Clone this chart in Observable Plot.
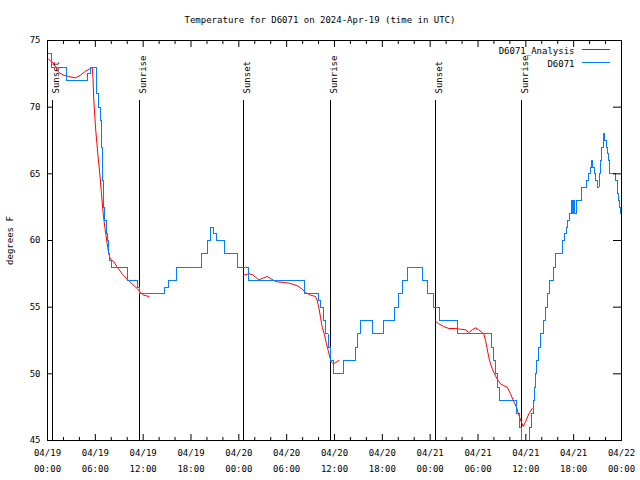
<!DOCTYPE html>
<html><head><meta charset="utf-8">
<script src="https://cdn.jsdelivr.net/npm/d3@7"></script>
<script src="https://cdn.jsdelivr.net/npm/@observablehq/plot@0.6"></script>
<style>body{margin:0;background:#fff;} svg{display:block}</style>
</head><body>
<script>
const chartTitle = "Temperature for D6071 on 2024-Apr-19 (time in UTC)";
const yLabel = "degrees F";
const xTickHours = [0, 6, 12, 18, 24, 30, 36, 42, 48, 54, 60, 66, 72];
const xTickDates = ["04/19","04/19","04/19","04/19","04/20","04/20","04/20","04/20","04/21","04/21","04/21","04/21","04/22"];
const xTickTimes = ["00:00","06:00","12:00","18:00","00:00","06:00","12:00","18:00","00:00","06:00","12:00","18:00","00:00"];
const xMinorTickHours = [2,4,8,10,14,16,20,22,26,28,32,34,38,40,44,46,50,52,56,58,62,64,68,70];
const yTicks = [45, 50, 55, 60, 65, 70, 75];
const seriesNames = ["D6071_Analysis", "D6071"];
const seriesColors = ["#ff0000", "#0080ff"];
const sunEventHours = [0.58, 11.58, 24.63, 35.50, 48.67, 59.50];
const sunEventLabels = ["Sunset", "Sunrise", "Sunset", "Sunrise", "Sunset", "Sunrise"];

// D6071 observations (hours since 04/19 00:00 UTC, deg F), value holds until next point
const stationHours = [0.00,0.50,2.40,4.97,5.35,6.15,6.43,6.65,6.77,6.90,7.06,7.19,7.36,7.49,7.61,7.78,8.03,
  10.04,11.29,11.58,14.71,15.22,16.18,19.28,20.07,20.45,20.82,21.20,22.24,23.80,25.25,32.28,34.03,34.24,
  34.62,34.93,35.19,35.44,35.85,37.17,38.63,38.88,39.26,40.73,42.18,43.53,44.07,44.53,45.19,47.00,47.70,
  48.46,49.21,51.39,55.65,55.90,56.20,56.41,56.73,58.83,59.21,59.46,59.65,60.21,60.46,60.71,60.90,61.09,
  61.21,61.38,61.53,61.84,62.22,62.47,62.72,62.97,63.41,63.72,64.54,64.85,65.06,65.27,65.44,65.73,65.90,
  66.00,66.15,66.30,66.92,67.61,67.86,68.11,68.24,68.40,68.61,68.80,68.99,69.18,69.37,69.55,69.74,69.93,
  70.12,70.24,70.40,70.55,71.25,71.44,71.54,71.67,71.79,71.87,72.00];
const stationTemps = [74,73,72,72.5,73,71,70,69,67,64.5,62.5,61.5,60.5,60,59,58.5,58,
  57,56.5,56,56.5,57,58,59,60,61,60.5,60,59,58,57,56,55.5,55,
  54,53,52,51,50,51,52,53,54,53,54,55,56,57,58,57,56,
  55,54,53,52,51,50,49,48,47,46,45,44,45,46,47,48,49,
  50,51,52,53,54,55,56,57,58,59,60,60.5,61,61.5,62,63,62,
  63,62,63,64,64.5,65,65.5,66,65.5,65,64.5,64,65,66,67,68,67.5,
  67,66.5,66,65,64.5,64,63.5,63,62.5,62,62];

// D6071_Analysis, three overnight segments
const analysis1Hours = [0.13,0.79,1.42,2.04,2.67,3.51,4.14,4.77,5.39,5.61,5.71,5.81,6.02,6.31,6.56,6.77,6.99,7.19,7.49,7.69,7.90,8.32,8.74,9.37,10.00,10.62,11.25,11.67,12.08,12.71];
const analysis1Temps = [73.6,73.25,72.6,72.4,72.3,72.2,72.4,72.7,72.9,73.0,72.1,70.5,68.5,66.5,65,63.5,62,61,59.75,59,58.6,58.4,58,57.5,57.1,56.75,56.4,56.1,55.9,55.8];
const analysis2Hours = [24.59,25.25,25.68,26.09,26.50,26.93,27.56,27.97,28.39,28.81,29.64,30.27,30.90,31.52,31.95,32.36,32.99,33.62,33.83,34.03,34.24,34.46,34.75,35.00,35.21,35.41,35.58,35.83,36.13,36.54];
const analysis2Temps = [57.4,57.5,57.45,57.25,57.05,57.15,57.3,57.15,57.0,56.9,56.85,56.8,56.7,56.55,56.35,56.1,55.9,55.8,55.5,55.0,54.25,53.5,52.9,52.25,51.75,51.25,50.9,50.75,50.85,51.0];
const analysis3Hours = [48.67,49.08,49.71,50.34,51.18,51.80,52.43,52.85,53.27,53.69,54.10,54.52,54.73,54.94,55.15,55.35,55.57,55.78,55.98,56.41,56.82,57.24,57.67,58.08,58.50,58.83,59.13,59.43,59.68,59.96,60.38,60.80];
const analysis3Temps = [53.95,53.75,53.55,53.4,53.4,53.35,53.3,53.1,53.3,53.45,53.3,53.1,53.0,52.5,51.9,51.25,50.75,50.4,50.1,49.6,49.25,49.1,49.0,48.5,47.9,47.5,46.9,46.4,46.05,46.4,47.0,47.4];

const station = stationHours.map((h, i) => ({h, t: stationTemps[i]}));
const analysis = [[analysis1Hours, analysis1Temps], [analysis2Hours, analysis2Temps], [analysis3Hours, analysis3Temps]]
  .flatMap(([H, T], k) => H.map((h, i) => ({h, t: T[i], seg: k})));
const sun = sunEventHours.map((h, i) => ({h, label: sunEventLabels[i]}));

const plot = Plot.plot({
  width: 640, height: 480,
  marginLeft: 47, marginRight: 19, marginTop: 40, marginBottom: 40,
  style: {fontFamily: "'DejaVu Sans Mono', monospace", fontSize: "9px", background: "#fff", color: "#000", overflow: "visible"},
  x: {domain: [0, 72]},
  y: {domain: [45, 75]},
  marks: [
    Plot.ruleX(sun, {x: "h", insetTop: 60, stroke: "#000", shapeRendering: "crispEdges"}),
    Plot.text(sun, {x: "h", text: "label", frameAnchor: "top", dy: 53, rotate: -90, textAnchor: "start", fill: "#000"}),
    Plot.line(analysis, {x: "h", y: "t", z: "seg", stroke: seriesColors[0], strokeWidth: 1, clip: true}),
    Plot.line(station, {x: "h", y: "t", curve: "step-after", stroke: seriesColors[1], strokeWidth: 1, clip: true, shapeRendering: "crispEdges"}),
    Plot.axisY({ticks: yTicks, tickSize: 0, tickPadding: 7, tickFormat: d => String(d), label: yLabel, labelAnchor: "center", labelArrow: "none", labelOffset: 41}),
    Plot.axisY({anchor: "left", ticks: yTicks, tickSize: -6, text: null, label: null}),
    Plot.axisY({anchor: "right", ticks: yTicks, tickSize: -9, text: null, label: null}),
    Plot.axisX({anchor: "bottom", ticks: xTickHours, tickSize: 0, tickPadding: 9, tickFormat: d => xTickDates[xTickHours.indexOf(d)], label: null}),
    Plot.axisX({anchor: "bottom", ticks: xTickHours, tickSize: 0, tickPadding: 25, tickFormat: d => xTickTimes[xTickHours.indexOf(d)], label: null}),
    Plot.axisX({anchor: "bottom", ticks: xTickHours, tickSize: -6, text: null, label: null}),
    Plot.axisX({anchor: "top", ticks: xTickHours, tickSize: -6, text: null, label: null}),
    Plot.axisX({anchor: "bottom", ticks: xMinorTickHours, tickSize: -3, text: null, label: null}),
    Plot.axisX({anchor: "top", ticks: xMinorTickHours, tickSize: -3, text: null, label: null}),
    Plot.frame({stroke: "#000", shapeRendering: "crispEdges"}),
    Plot.text([seriesNames[0]], {text: d => d, frameAnchor: "top-right", dx: -47, dy: 7.5, textAnchor: "end", fill: "#000"}),
    Plot.text([seriesNames[1]], {text: d => d, frameAnchor: "top-right", dx: -47, dy: 20, textAnchor: "end", fill: "#000"}),
    Plot.text([chartTitle], {text: d => d, frameAnchor: "top", dx: -14.5, dy: -24, fill: "#000"})
  ]
});
const svg = d3.select(plot);
seriesColors.forEach((c, i) => {
  svg.append("line").attr("x1", 582).attr("x2", 610)
    .attr("y1", 49.5 + i * 12.5).attr("y2", 49.5 + i * 12.5)
    .attr("stroke", c).attr("stroke-width", 1).attr("shape-rendering", "crispEdges");
});
document.body.appendChild(plot);
</script>
</body></html>
